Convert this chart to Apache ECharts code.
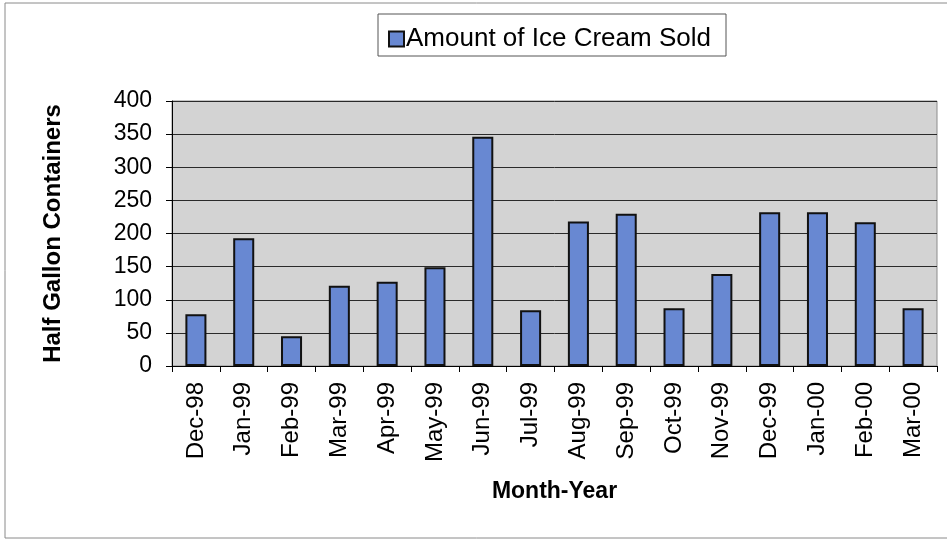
<!DOCTYPE html>
<html>
<head>
<meta charset="utf-8">
<script src="https://cdn.jsdelivr.net/npm/echarts@6/dist/echarts.min.js"></script>
<style>
  html, body { margin: 0; padding: 0; background: #ffffff; }
  #chart { width: 947px; height: 542px; }
</style>
</head>
<body>
<div id="chart"></div>
<script>
// Monthly half-gallon ice cream sales
const months = ['Dec-98', 'Jan-99', 'Feb-99', 'Mar-99', 'Apr-99', 'May-99', 'Jun-99', 'Jul-99',
                'Aug-99', 'Sep-99', 'Oct-99', 'Nov-99', 'Dec-99', 'Jan-00', 'Feb-00', 'Mar-00'];
const amountSold = [78, 193, 45, 121, 127, 149, 346, 84, 218, 230, 87, 139, 232, 232, 217, 87];
const seriesName = 'Amount of Ice Cream Sold';
const yTicks = { min: 0, max: 400, interval: 50 };

const chart = echarts.init(document.getElementById('chart'), null, { renderer: 'canvas' });

const font = 'Arial, "Liberation Sans", Helvetica, sans-serif';

chart.setOption({
  backgroundColor: '#ffffff',
  animation: false,
  graphic: [
    // outer chart frame
    { type: 'rect', shape: { x: 5, y: 3, width: 950, height: 535 },
      style: { fill: 'none', stroke: '#8a8a8a', lineWidth: 1 }, silent: true },
    // legend box
    { type: 'rect', shape: { x: 378, y: 14, width: 348, height: 42 },
      style: { fill: '#ffffff', stroke: '#555555', lineWidth: 1 }, z: 0, silent: true }
  ],
  legend: {
    data: [seriesName],
    left: 383,
    top: 21,
    itemWidth: 15,
    itemHeight: 15,
    itemGap: 4,
    icon: 'rect',
    textStyle: { fontFamily: font, fontSize: 26, color: '#000000', padding: [0, 0, 0, -3] },
    z: 5
  },
  grid: {
    left: 172,
    right: 10,
    top: 101,
    bottom: 176,
    show: true,
    backgroundColor: '#d3d3d3',
    borderColor: '#8c8c8c',
    borderWidth: 1
  },
  xAxis: {
    type: 'category',
    data: months,
    name: 'Month-Year',
    nameLocation: 'middle',
    nameGap: 114,
    nameTextStyle: { fontFamily: font, fontSize: 23, fontWeight: 'bold', color: '#000000' },
    axisLine: { show: true, lineStyle: { color: '#000000', width: 1 } },
    axisTick: { show: true, length: 6, alignWithLabel: false, lineStyle: { color: '#000000' } },
    axisLabel: { rotate: 90, fontFamily: font, fontSize: 24, color: '#000000', margin: 16, interval: 0 },
    splitLine: { show: false }
  },
  yAxis: {
    type: 'value',
    min: yTicks.min,
    max: yTicks.max,
    interval: yTicks.interval,
    name: 'Half Gallon Containers',
    nameLocation: 'middle',
    nameGap: 107,
    nameRotate: 90,
    nameTextStyle: { fontFamily: font, fontSize: 24, fontWeight: 'bold', color: '#000000' },
    axisLine: { show: true, lineStyle: { color: '#000000', width: 1 } },
    axisTick: { show: true, length: 6, lineStyle: { color: '#000000' } },
    axisLabel: { fontFamily: font, fontSize: 23, color: '#000000', margin: 20 },
    splitLine: { show: true, lineStyle: { color: '#2a2a2a', width: 1 } }
  },
  series: [{
    name: seriesName,
    type: 'bar',
    data: amountSold,
    barWidth: '44%',
    itemStyle: { color: '#6888d2', borderColor: '#111111', borderWidth: 2 }
  }]
});
</script>
</body>
</html>
